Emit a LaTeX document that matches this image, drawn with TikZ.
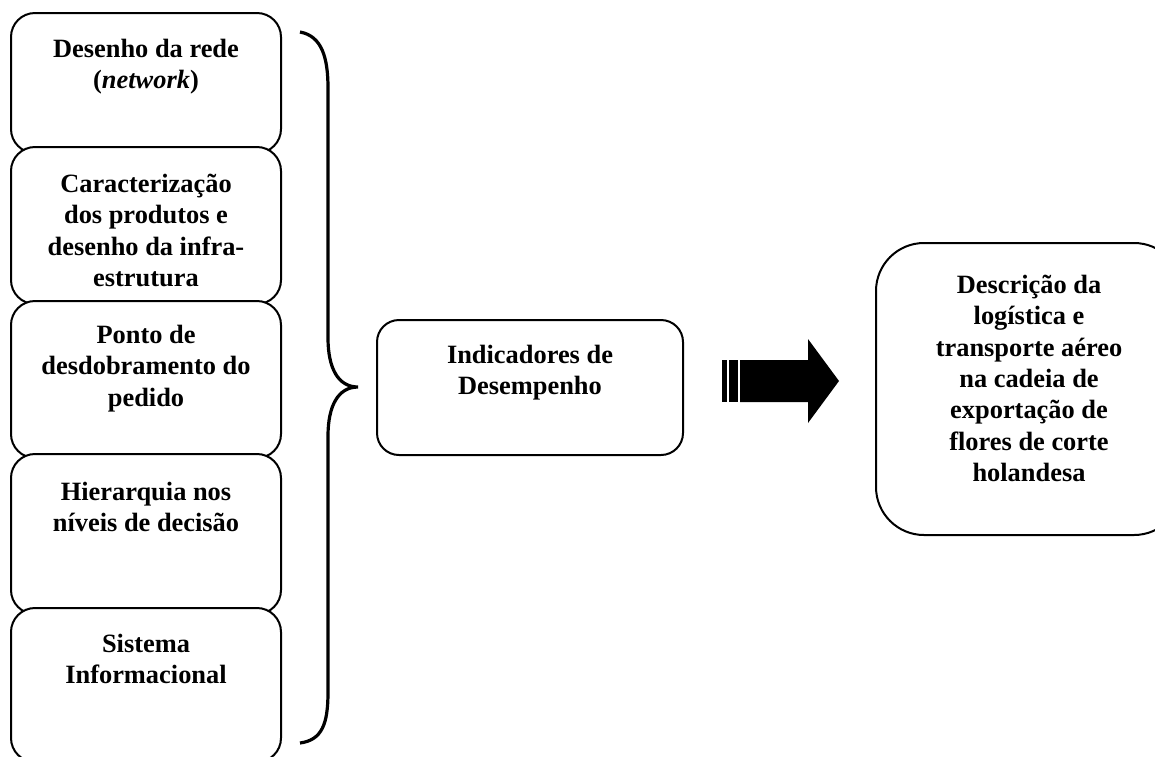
\documentclass[tikz,border=0pt]{standalone}
\usepackage{fontspec}
\setmainfont{Liberation Serif}

\begin{document}
\begin{tikzpicture}[x=0.5pt,y=-0.5pt,
    caixa/.style={draw,line width=1pt,fill=white,inner sep=0pt,rounded corners=12pt},
    texto/.style={anchor=north,align=center,inner sep=0pt,
      font=\fontsize{13.2}{15.7}\selectfont\bfseries}]
    \useasboundingbox (0,0) rectangle (1155,756);
    % coluna da esquerda
    \node[caixa,minimum width=135pt,minimum height=70pt] (rede) at (146,83) {};
    \node[texto] (redeT) at (146,35) {\strut Desenho da rede\\(\textit{network})};
    \node[caixa,minimum width=135pt,minimum height=78.5pt] (produtos) at (146,225.5) {};
    \node[texto] (produtosT) at (146,170) {\strut Caracterização\\dos produtos e\\desenho da infra-\\estrutura};
    \node[caixa,minimum width=135pt,minimum height=78.5pt] (ponto) at (146,379.5) {};
    \node[texto] (pontoT) at (146,321) {\strut Ponto de\\desdobramento do\\pedido};
    \node[caixa,minimum width=135pt,minimum height=80pt] (hierarquia) at (146,534) {};
    \node[texto] (hierarquiaT) at (146,478) {\strut Hierarquia nos\\níveis de decisão};
    \node[caixa,minimum width=135pt,minimum height=77pt] (sistema) at (146,685) {};
    \node[texto] (sistemaT) at (146,630) {\strut Sistema\\Informacional};
    %
    % chave
    \draw[line width=1.6pt] (300,32) .. controls (322,36) and (328,58) .. (328,88)
      -- (328,338) .. controls (328,368) and (338,387) .. (358,387)
      .. controls (338,387) and (328,406) .. (328,436)
      -- (328,692) .. controls (328,724) and (322,740) .. (300,743);
    %
    \node[caixa,rounded corners=11pt,minimum width=153pt,minimum height=67.5pt] (indicadores) at (530,387.5) {};
    \node[texto] (indicadoresT) at (530,341) {\strut Indicadores de\\Desempenho};
    %
    % seta listrada
    \fill (722,360) rectangle (727,402);
    \fill (729,360) rectangle (738,402);
    \fill (740,360) -- (808,360) -- (808,339) -- (839,381) -- (808,423) -- (808,402) -- (740,402) -- cycle;
    %
    \node[caixa,rounded corners=24pt,minimum width=153pt,minimum height=146pt] (descricao) at (1029,389) {};
    \node[texto] (descricaoT) at (1029,271) {\strut Descrição da\\logística e\\transporte aéreo\\na cadeia de\\exportação de\\flores de corte\\holandesa};
\end{tikzpicture}
\end{document}
